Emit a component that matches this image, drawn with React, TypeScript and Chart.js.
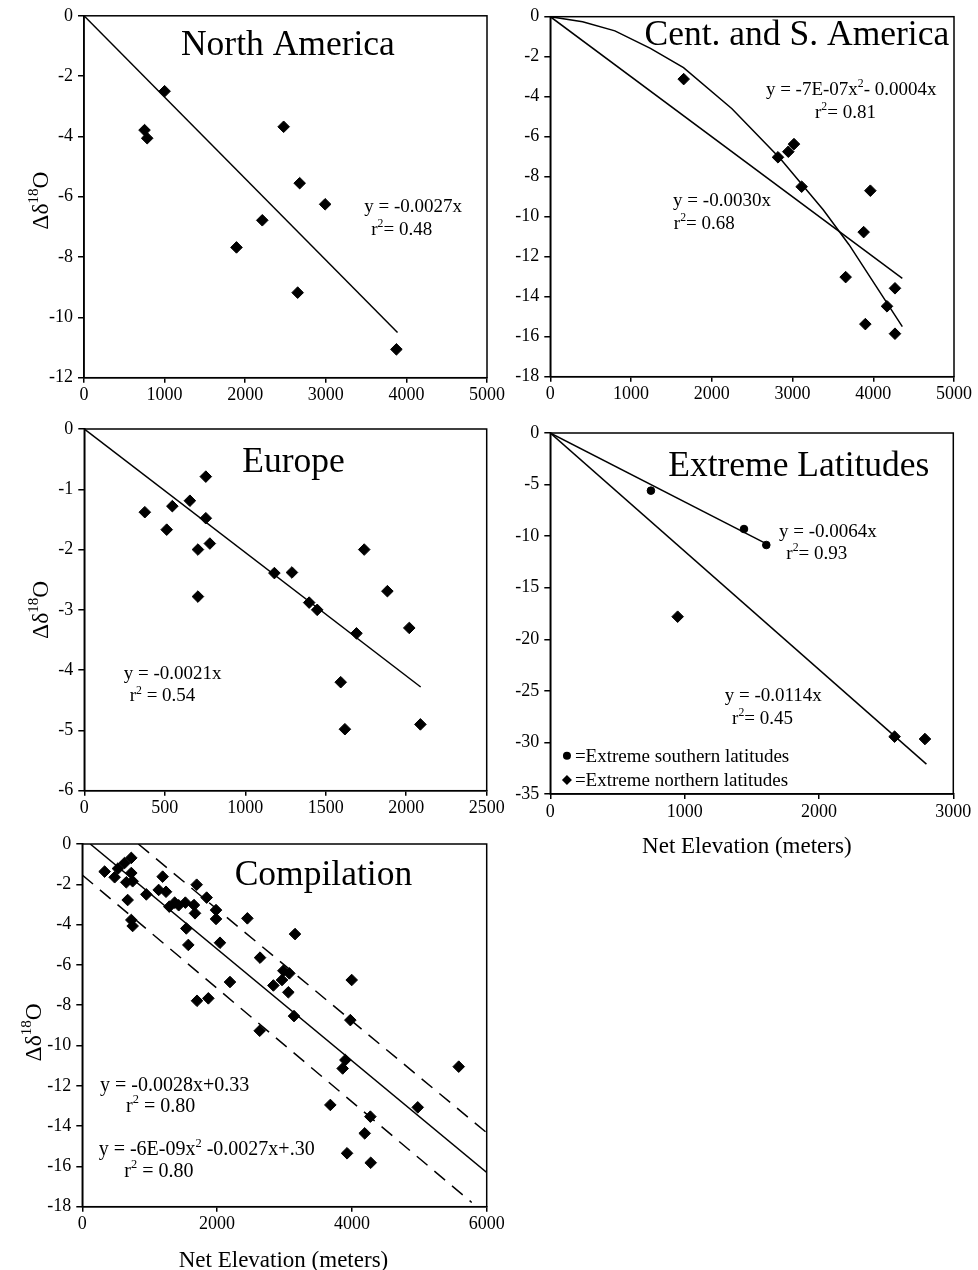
import React, { useEffect, useRef } from "react";
import { Chart, registerables } from "chart.js";
Chart.register(...registerables);

const FONT = '"Liberation Serif", "Times New Roman", serif';

// ---------- North America ----------
const naX = [751, 784, 1000, 2477, 2676, 2992, 2212, 1892, 2651, 3876];
const naY = [-3.79, -4.06, -2.5, -3.68, -5.55, -6.25, -6.78, -7.68, -9.18, -11.06];
const naFitX = [0, 3890];
const naFitY = [0, -10.5];

// ---------- Central and South America ----------
const csaX = [1652, 2820, 2948, 3018, 3113, 3964, 3881, 3658, 4269, 4170, 3902, 4269];
const csaY = [-3.12, -7.03, -6.75, -6.37, -8.5, -8.7, -10.77, -13.02, -13.58, -14.48, -15.37, -15.85];
const csaLinX = [0, 4360];
const csaLinY = [0, -13.08];
const csaPolyX = [0, 400, 800, 1240, 1650, 2250, 2850, 3380, 3700, 4360];
const csaPolyY = [0, -0.25, -0.71, -1.58, -2.55, -4.6, -7.1, -9.65, -11.4, -15.5];

// ---------- Europe ----------
const euX = [376, 512, 547, 656, 755, 755, 706, 780, 706, 1181, 1290, 1397, 1447, 1691, 1739, 1883, 2019, 1593, 1619, 2088];
const euY = [-1.38, -1.67, -1.28, -1.19, -0.79, -1.48, -2.0, -1.9, -2.78, -2.39, -2.38, -2.88, -3.0, -3.39, -2.0, -2.69, -3.3, -4.2, -4.98, -4.9];
const euFitX = [0, 2090];
const euFitY = [0, -4.28];

// ---------- Extreme latitudes ----------
const exSouthX = [749, 1442, 1608];
const exSouthY = [-5.59, -9.31, -10.86];
const exNorthX = [948, 2563, 2789];
const exNorthY = [-17.81, -29.44, -29.67];
const exSouthFitX = [0, 1610];
const exSouthFitY = [0, -10.75];
const exNorthFitX = [0, 2800];
const exNorthFitY = [0, -32.1];

// ---------- Compilation ----------
const compX = [331, 480, 529, 628, 727, 727, 653, 747, 673, 727, 747, 950, 1133, 1242, 1192, 1291, 1370, 1430, 1529, 1657, 1672, 1697, 1845, 1984, 1984, 1543, 1573, 2043, 2449, 2637, 1702, 1870, 2191, 3156, 2835, 2963, 2983, 3072, 3057, 3141, 2632, 3997, 3977, 3903, 3863, 5585, 3680, 4977, 4274, 4190, 3928, 4279];
const compY = [-1.37, -1.65, -1.22, -0.94, -0.69, -1.44, -1.9, -1.85, -2.78, -3.77, -4.07, -2.5, -2.28, -2.37, -1.62, -3.11, -2.91, -3.04, -2.91, -3.03, -3.44, -2.02, -2.66, -3.28, -3.72, -4.19, -5.01, -4.9, -3.69, -5.64, -7.78, -7.66, -6.85, -4.47, -7.02, -6.75, -6.29, -6.42, -7.36, -8.54, -9.27, -6.75, -8.74, -10.72, -11.14, -11.05, -12.95, -13.07, -13.53, -14.36, -15.35, -15.82];
const compFitX = [118, 6000];
const compFitY = [0, -16.3];
const compUpperX = [831, 6000];
const compUpperY = [0, -14.33];
const compLowerX = [0, 5778];
const compLowerY = [-1.54, -17.79];

// ---------- helpers ----------
type Part = [string, boolean];
type Note = { x: number; y: number; parts: Part[]; size: number; align?: "left" | "center" };
type Marker = { x: number; y: number; style: "circle" | "diamond"; r: number };
type PanelCfg = {
  left: number; top: number; width: number; height: number;
  padTop: number; padRight: number; yAxisW: number; xAxisH: number;
  xMax: number; xStep: number; yMin: number; yStep: number;
  datasets: any[];
  notes: Note[];
  markers?: Marker[];
  yLabel?: { dx: number; dy: number };
  xTitle?: { dx: number; dy: number };
};

const pts = (xs: number[], ys: number[]) => xs.map((x, i) => ({ x, y: ys[i] }));
const scatterSet = (xs: number[], ys: number[], style: string, r: number) => ({
  data: pts(xs, ys), showLine: false, pointStyle: style, pointRadius: r,
  pointBackgroundColor: "#000", pointBorderColor: "#000", pointBorderWidth: 1,
  backgroundColor: "#000", borderColor: "#000",
});
const lineSet = (xs: number[], ys: number[], dash: number[] = []) => ({
  data: pts(xs, ys), showLine: true, pointRadius: 0, borderColor: "#000",
  borderWidth: 1.5, borderDash: dash, fill: false, tension: 0,
});
const T = (s: string): Part[] => [[s, false]];
const R2 = (pre: string, post: string): Part[] => [[pre, false], ["2", true], [post, false]];

function drawRich(ctx: CanvasRenderingContext2D, parts: Part[], x: number, y: number, size: number, align: string, supRatio = 0.62) {
  const sup = size * supRatio;
  let w = 0;
  for (const [t, s] of parts) {
    ctx.font = `${s ? sup : size}px ${FONT}`;
    w += ctx.measureText(t).width;
  }
  let cx = align === "center" ? x - w / 2 : x;
  for (const [t, s] of parts) {
    ctx.font = `${s ? sup : size}px ${FONT}`;
    ctx.fillText(t, cx, s ? y - size * 0.42 : y);
    cx += ctx.measureText(t).width;
  }
}

function makePlugin(cfg: PanelCfg) {
  return {
    id: "annot",
    afterDraw(chart: any) {
      const { ctx, chartArea: a, scales } = chart;
      const sx = scales.x, sy = scales.y;
      ctx.save();
      ctx.strokeStyle = "#000";
      ctx.lineWidth = 1.5;
      ctx.strokeRect(a.left, a.top, a.right - a.left, a.bottom - a.top);
      ctx.fillStyle = "#000";
      ctx.textBaseline = "alphabetic";
      ctx.textAlign = "left";
      for (const n of cfg.notes) {
        drawRich(ctx, n.parts, sx.getPixelForValue(n.x), sy.getPixelForValue(n.y), n.size, n.align || "left");
      }
      for (const m of cfg.markers || []) {
        const px = sx.getPixelForValue(m.x), py = sy.getPixelForValue(m.y);
        ctx.beginPath();
        if (m.style === "circle") ctx.arc(px, py, m.r, 0, Math.PI * 2);
        else { ctx.moveTo(px - m.r, py); ctx.lineTo(px, py - m.r); ctx.lineTo(px + m.r, py); ctx.lineTo(px, py + m.r); ctx.closePath(); }
        ctx.fill();
      }
      if (cfg.yLabel) {
        ctx.save();
        ctx.translate(a.left - cfg.yLabel.dx, (a.top + a.bottom) / 2 + cfg.yLabel.dy);
        ctx.rotate(-Math.PI / 2);
        drawRich(ctx, [["Δδ", false], ["18", true], ["O", false]], 0, 0, 23.5, "center", 0.64);
        ctx.restore();
      }
      if (cfg.xTitle) {
        drawRich(ctx, T("Net Elevation (meters)"), (a.left + a.right) / 2 + cfg.xTitle.dx, a.bottom + cfg.xTitle.dy, 23, "center");
      }
      ctx.restore();
    },
  };
}

const tickFont = { family: FONT, size: 18 };

function Panel({ cfg }: { cfg: PanelCfg }) {
  const ref = useRef<HTMLCanvasElement | null>(null);
  useEffect(() => {
    if (!ref.current) return;
    const chart = new Chart(ref.current, {
      type: "scatter",
      data: { datasets: cfg.datasets },
      options: {
        animation: false,
        responsive: false,
        events: [],
        layout: { padding: { left: 0, top: cfg.padTop, right: cfg.padRight, bottom: 0 } },
        plugins: { legend: { display: false }, tooltip: { enabled: false } },
        scales: {
          x: {
            type: "linear", min: 0, max: cfg.xMax,
            ticks: { stepSize: cfg.xStep, color: "#000", font: tickFont, padding: 2, maxRotation: 0, autoSkip: false, callback: (v: any) => String(v) },
            grid: { drawOnChartArea: false, drawTicks: true, tickLength: 5, color: "#000", lineWidth: 1.5 },
            border: { display: true, color: "#000", width: 1.5 },
            afterFit: (s: any) => { s.height = cfg.xAxisH; },
          },
          y: {
            type: "linear", min: cfg.yMin, max: 0,
            ticks: { stepSize: cfg.yStep, color: "#000", font: tickFont, padding: 5, autoSkip: false, callback: (v: any) => String(v) },
            grid: { drawOnChartArea: false, drawTicks: true, tickLength: 6, color: "#000", lineWidth: 1.5 },
            border: { display: true, color: "#000", width: 1.5 },
            afterFit: (s: any) => { s.width = cfg.yAxisW; },
          },
        },
      } as any,
      plugins: [makePlugin(cfg)],
    });
    return () => chart.destroy();
  }, [cfg]);
  return (
    <canvas
      ref={ref}
      width={cfg.width}
      height={cfg.height}
      style={{ position: "absolute", left: cfg.left, top: cfg.top, width: cfg.width, height: cfg.height }}
    />
  );
}

const TS = 35.5; // title size
const ES = 19; // equation size

const panels: PanelCfg[] = [
  {
    left: 0, top: 0, width: 520, height: 405,
    padTop: 15.7, padRight: 33, yAxisW: 84, xAxisH: 27.3,
    xMax: 5000, xStep: 1000, yMin: -12, yStep: 2,
    datasets: [lineSet(naFitX, naFitY), scatterSet(naX, naY, "rectRot", 5.8)],
    notes: [
      { x: 2530, y: -1.3, parts: T("North America"), size: TS, align: "center" },
      { x: 3477, y: -6.51, parts: T("y = -0.0027x"), size: ES },
      { x: 3564, y: -7.27, parts: R2("r", "= 0.48"), size: ES },
    ],
    yLabel: { dx: 36, dy: 3.8 },
  },
  {
    left: 500, top: 0, width: 478, height: 405,
    padTop: 16.7, padRight: 24, yAxisW: 50.3, xAxisH: 28.3,
    xMax: 5000, xStep: 1000, yMin: -18, yStep: 2,
    datasets: [lineSet(csaPolyX, csaPolyY), lineSet(csaLinX, csaLinY), scatterSet(csaX, csaY, "rectRot", 5.8)],
    notes: [
      { x: 3054, y: -1.42, parts: T("Cent. and S. America"), size: TS, align: "center" },
      { x: 2670, y: -3.92, parts: [["y = -7E-07x", false], ["2", true], ["- 0.0004x", false]], size: ES },
      { x: 3278, y: -5.07, parts: R2("r", "= 0.81"), size: ES },
      { x: 1521, y: -9.45, parts: T("y = -0.0030x"), size: ES },
      { x: 1530, y: -10.62, parts: R2("r", "= 0.68"), size: ES },
    ],
  },
  {
    left: 0, top: 405, width: 520, height: 410,
    padTop: 24, padRight: 33.3, yAxisW: 84.3, xAxisH: 24.3,
    xMax: 2500, xStep: 500, yMin: -6, yStep: 1,
    datasets: [lineSet(euFitX, euFitY), scatterSet(euX, euY, "rectRot", 5.8)],
    notes: [
      { x: 1300, y: -0.72, parts: T("Europe"), size: TS, align: "center" },
      { x: 245, y: -4.15, parts: T("y = -0.0021x"), size: ES },
      { x: 282, y: -4.52, parts: R2("r", " = 0.54"), size: ES },
    ],
    yLabel: { dx: 36.3, dy: 0 },
  },
  {
    left: 500, top: 405, width: 478, height: 460,
    padTop: 28, padRight: 24.7, yAxisW: 50.3, xAxisH: 71,
    xMax: 3000, xStep: 1000, yMin: -35, yStep: 5,
    datasets: [
      lineSet(exSouthFitX, exSouthFitY), lineSet(exNorthFitX, exNorthFitY),
      scatterSet(exSouthX, exSouthY, "circle", 3.8), scatterSet(exNorthX, exNorthY, "rectRot", 5.8),
    ],
    notes: [
      { x: 1850, y: -4.17, parts: T("Extreme Latitudes"), size: TS, align: "center" },
      { x: 1702, y: -10.06, parts: T("y = -0.0064x"), size: ES },
      { x: 1757, y: -12.25, parts: R2("r", "= 0.93"), size: ES },
      { x: 1298, y: -26.0, parts: T("y = -0.0114x"), size: ES },
      { x: 1353, y: -28.2, parts: R2("r", "= 0.45"), size: ES },
      { x: 183, y: -31.9, parts: T("=Extreme southern latitudes"), size: ES },
      { x: 183, y: -34.2, parts: T("=Extreme northern latitudes"), size: ES },
    ],
    markers: [
      { x: 124, y: -31.3, style: "circle", r: 4 },
      { x: 124, y: -33.65, style: "diamond", r: 5 },
    ],
    xTitle: { dx: -5, dy: 59 },
  },
  {
    left: 0, top: 815, width: 520, height: 455,
    padTop: 29, padRight: 33.3, yAxisW: 82.3, xAxisH: 63.3,
    xMax: 6000, xStep: 2000, yMin: -18, yStep: 2,
    datasets: [
      lineSet(compFitX, compFitY), lineSet(compUpperX, compUpperY, [14, 9]), lineSet(compLowerX, compLowerY, [14, 9]),
      scatterSet(compX, compY, "rectRot", 5.8),
    ],
    notes: [
      { x: 3577, y: -2.03, parts: T("Compilation"), size: TS, align: "center" },
      { x: 263, y: -12.24, parts: T("y = -0.0028x+0.33"), size: 20 },
      { x: 649, y: -13.29, parts: R2("r", " = 0.80"), size: 20 },
      { x: 243, y: -15.43, parts: [["y = -6E-09x", false], ["2", true], [" -0.0027x+.30", false]], size: 20 },
      { x: 623, y: -16.51, parts: R2("r", " = 0.80"), size: 20 },
    ],
    yLabel: { dx: 41.3, dy: 7 },
    xTitle: { dx: -1, dy: 60 },
  },
];

export default function App() {
  return (
    <div style={{ position: "absolute", left: 0, top: 0, width: 978, height: 1270, background: "#fff", overflow: "hidden" }}>
      {panels.map((p, i) => (
        <Panel key={i} cfg={p} />
      ))}
    </div>
  );
}
